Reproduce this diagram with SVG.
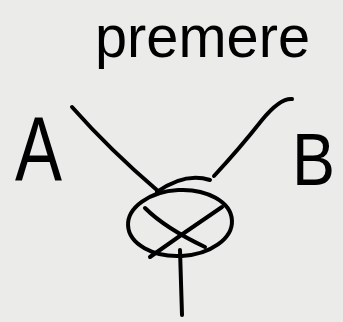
<svg xmlns="http://www.w3.org/2000/svg" width="343" height="322" viewBox="0 0 343 322">
<style>
.ink{fill:none;stroke:#000;stroke-width:4;stroke-linecap:round;stroke-linejoin:round}
.t{font-family:"Liberation Sans","DejaVu Sans",sans-serif;fill:#000}
</style>
<rect width="343" height="322" fill="#ebebea"/>
<g id="label-premere"><text class="t" x="95" y="57" font-size="60" textLength="215" lengthAdjust="spacingAndGlyphs">premere</text></g>
<g id="node-A"><text class="t" x="15" y="180" font-size="90" textLength="47" lengthAdjust="spacingAndGlyphs">A</text></g>
<g id="node-B"><text class="t" x="292" y="185" font-size="74" textLength="43" lengthAdjust="spacingAndGlyphs">B</text></g>
<g id="node-junction">
<ellipse class="ink" cx="180" cy="223" rx="52" ry="33" transform="rotate(-3 180 223)"/>
<path class="ink" d="M145 208 Q165 228 205 247"/>
<path class="ink" d="M222 207 Q185 232 150 257"/>
<path class="ink" d="M157 192 Q185 172 210 180"/>
</g>
<g id="connectors">
<path class="ink" d="M72 107 Q110 150 158 191"/>
<path class="ink" d="M292 99 Q280 98 262 120 Q240 148 214 176"/>
<path class="ink" d="M180 250 Q181 285 182 315"/>
</g>
</svg>
